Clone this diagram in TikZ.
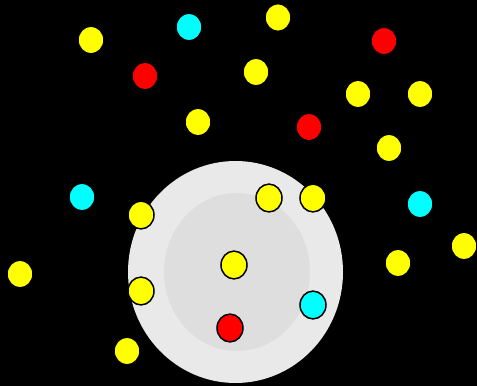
\documentclass[tikz,border=0pt]{standalone}
\usepackage{xcolor}
\usepackage{tikz}
\usetikzlibrary{
  positioning,
  shapes.geometric
}
\definecolor{ballyellow}{RGB}{255,255,0}
\definecolor{ballcyan}{RGB}{0,255,255}
\definecolor{ballred}{RGB}{255,0,0}
\definecolor{outerdisc}{RGB}{233,233,233}
\definecolor{innerdisc}{RGB}{222,222,222}

\begin{document}
\begin{tikzpicture}[x=1pt, y=-1pt,
  ball/.style={draw=black, line width=1.5pt, ellipse, inner sep=0pt,
    minimum width=26pt, minimum height=27.8pt},
  yball/.style={ball, fill=ballyellow},
  cball/.style={ball, fill=ballcyan},
  rball/.style={ball, fill=ballred}]
\fill[black] (0,0) rectangle (477,386);
\useasboundingbox (0,0) rectangle (477,386);

% the big disc
\node[ellipse, fill=outerdisc, inner sep=0pt, minimum width=215pt, minimum height=222pt] (disc) at (235.5,272) {};
\node[ellipse, fill=innerdisc, inner sep=0pt, minimum width=146pt, minimum height=158pt] (core) at (237,272) {};

% balls outside
\node[yball] (y1) at (91,40) {};
\node[cball] (c1) at (189,27) {};
\node[rball] (r1) at (145,76) {};
\node[yball] (y2) at (278,17.5) {};
\node[yball] (y3) at (256,72) {};
\node[rball] (r2) at (384,41) {};
\node[yball] (y4) at (358,94) {};
\node[yball] (y5) at (420,94) {};
\node[yball] (y6) at (198,122) {};
\node[rball] (r3) at (309,127) {};
\node[yball] (y7) at (389,148) {};
\node[cball] (c2) at (82,197) {};
\node[cball] (c3) at (420,204) {};
\node[yball] (y8) at (464,246) {};
\node[yball] (y9) at (398,263) {};
\node[yball] (y10) at (20,274) {};
\node[yball] (y11) at (127,351) {};

% balls on the disc
\node[yball] (y12) at (141,215) {};
\node[yball] (y13) at (269,198) {};
\node[yball] (y14) at (313,198) {};
\node[yball] (y15) at (234,265) {};
\node[yball] (y16) at (141,291) {};
\node[cball] (c4) at (313,305) {};
\node[rball] (r4) at (230,328) {};
\end{tikzpicture}
\end{document}
